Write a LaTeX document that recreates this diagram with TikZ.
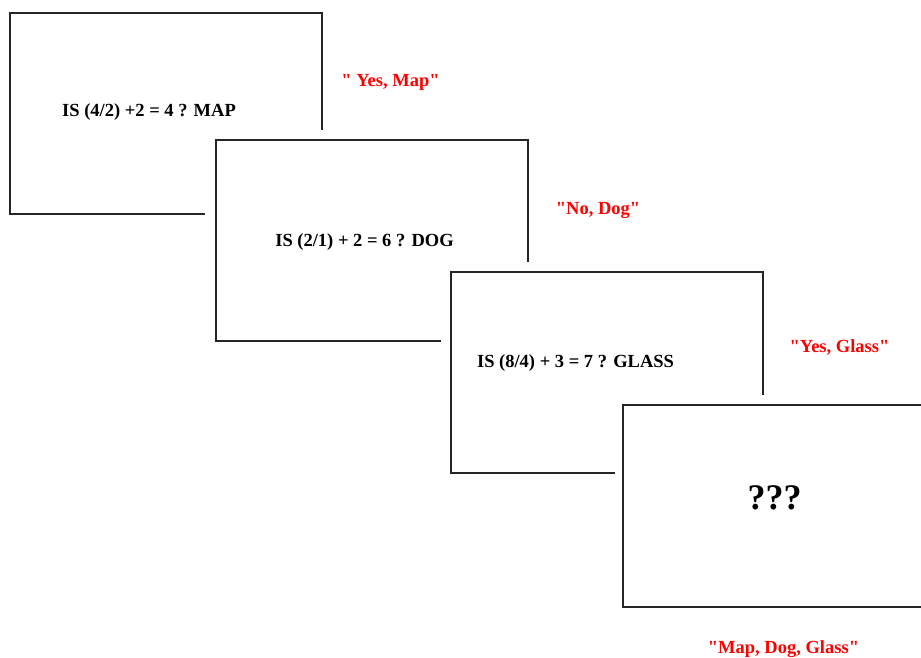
\documentclass[tikz,border=0pt]{standalone}
\usepackage{fontspec}
\setmainfont{Liberation Serif}[Ligatures=TeXOff]
\begin{document}
\begin{tikzpicture}[x=1pt,y=-1pt,
  card/.style={draw=black!85,line width=1.1pt},
  qtext/.style={font=\fontsize{18.5}{20}\selectfont\bfseries,anchor=base,inner sep=0pt},
  answer/.style={qtext,text=red},
  bigq/.style={font=\fontsize{36}{40}\selectfont\bfseries,anchor=base,inner sep=0pt}]
\useasboundingbox (0,0) rectangle (921,657);
% cards
\draw[card] (205,214) -- (10,214) -- (10,13) -- (322,13) -- (322,130);
\draw[card] (441,341) -- (216,341) -- (216,140) -- (528,140) -- (528,262);
\draw[card] (615,473) -- (451,473) -- (451,272) -- (763,272) -- (763,395);
\draw[card] (921,405) -- (623,405) -- (623,607) -- (921,607);
% texts
\node[qtext] (q1) at (149,116) {IS (4/2) +2 = 4 ? MAP};
\node[qtext] (q2) at (364.5,246) {IS (2/1) + 2 = 6 ? DOG};
\node[qtext] (q3) at (575.5,367) {IS (8/4) + 3 = 7 ? GLASS};
\node[bigq] (q4) at (774.5,509) {???};
\node[answer] (a1) at (390.5,86) {" Yes, Map"};
\node[answer] (a2) at (598,214) {"No, Dog"};
\node[answer] (a3) at (839.5,352) {"Yes, Glass"};
\node[answer] (a4) at (783.5,653) {"Map, Dog, Glass"};
\end{tikzpicture}
\end{document}
